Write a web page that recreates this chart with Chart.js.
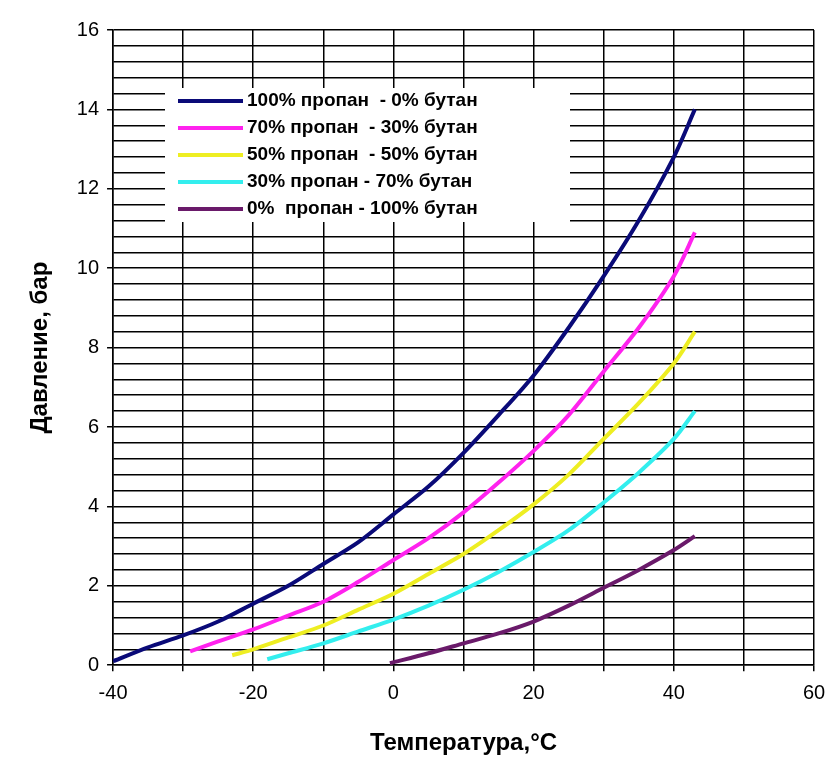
<!DOCTYPE html>
<html><head><meta charset="utf-8">
<script src="https://cdn.jsdelivr.net/npm/chart.js"></script>
<style>body{margin:0;background:#fff}#w{width:836px;height:776px}</style>
</head><body><div id="w"><canvas id="c"></canvas></div>
<script>
const seriesNames=["100% пропан  - 0% бутан","70% пропан  - 30% бутан","50% пропан  - 50% бутан","30% пропан - 70% бутан","0%  пропан - 100% бутан"];
const colors=["#0a0a78","#ff22ee","#eeee22","#33eeee","#6a1a6a"];
const s100x=[-40,-35,-30,-25,-20,-15,-10,-5,0,5,10,15,20,25,30,35,40,43];
const s100y=[0.1,0.45,0.75,1.1,1.55,2.0,2.55,3.1,3.8,4.5,5.35,6.3,7.3,8.5,9.8,11.2,12.8,14.0];
const s70x=[-29,-25,-20,-15,-10,-5,0,5,10,15,20,25,30,35,40,43];
const s70y=[0.35,0.6,0.9,1.25,1.6,2.1,2.65,3.2,3.85,4.6,5.4,6.3,7.4,8.5,9.8,10.9];
const s50x=[-23,-20,-15,-10,-5,0,5,10,15,20,25,30,35,40,43];
const s50y=[0.25,0.4,0.7,1.0,1.4,1.8,2.3,2.8,3.4,4.05,4.8,5.7,6.6,7.6,8.4];
const s30x=[-18,-15,-10,-5,0,5,10,15,20,25,30,35,40,43];
const s30y=[0.15,0.3,0.55,0.85,1.15,1.5,1.9,2.35,2.85,3.4,4.1,4.85,5.7,6.4];
const s0x=[-0.5,5,10,15,20,25,30,35,40,43];
const s0y=[0.05,0.3,0.55,0.8,1.1,1.5,1.95,2.4,2.9,3.25];
const xs=[s100x,s70x,s50x,s30x,s0x], ys=[s100y,s70y,s50y,s30y,s0y];
const datasets=seriesNames.map((n,i)=>({label:n,data:xs[i].map((x,j)=>({x:x,y:ys[i][j]})),borderColor:colors[i],borderWidth:4,pointRadius:0,tension:0.3,fill:false}));
const legendPlugin={id:'lg',afterDatasetsDraw(ch){const c=ch.ctx;c.save();
const x0=165,y0=88,w=405,h=134;c.fillStyle='#fff';c.fillRect(x0,y0,w,h);
c.font='bold 19px Arial';c.textBaseline='middle';
seriesNames.forEach((n,i)=>{const y=y0+13+i*27;c.strokeStyle=colors[i];c.lineWidth=4;c.beginPath();c.moveTo(178,y);c.lineTo(243,y);c.stroke();c.fillStyle='#000';c.fillText(n,247,y);});
c.restore();}};
new Chart(document.getElementById('c'),{type:'line',data:{datasets},plugins:[legendPlugin],
options:{responsive:true,maintainAspectRatio:false,animation:false,
layout:{padding:{top:30,right:22,bottom:14,left:22}},
plugins:{legend:{display:false},tooltip:{enabled:false}},
scales:{
x:{type:'linear',min:-40,max:60,ticks:{stepSize:10,padding:10,color:'#000',font:{size:20,family:'Arial'},callback:v=>v%20===0?v:''},
grid:{color:'#000',lineWidth:1.5,tickLength:6,tickColor:'#000'},border:{color:'#000',width:1.5},
title:{display:true,text:'Температура,°C',color:'#000',padding:{top:14},font:{size:24,weight:'bold',family:'Arial'}}},
y:{min:0,max:16,ticks:{stepSize:0.4,padding:8,color:'#000',font:{size:20,family:'Arial'},autoSkip:false,callback:v=>{const r=Math.round(v*10)/10;return Math.abs(r%2)<1e-6?r:'';}},
grid:{color:'#000',lineWidth:1.5,tickLength:6,tickColor:(c)=>{const r=Math.round(c.tick.value*10)/10;return r%2===0?'#000':'rgba(0,0,0,0)';}},border:{color:'#000',width:1.5},
title:{display:true,text:'Давление, бар',color:'#000',padding:{bottom:14},font:{size:24,weight:'bold',family:'Arial'}}}}}});
</script></body></html>
